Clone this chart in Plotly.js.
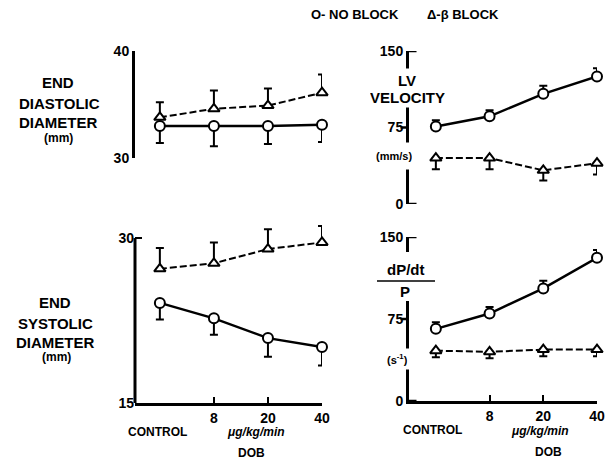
<!DOCTYPE html>
<html>
<head>
<meta charset="utf-8">
<script src="https://cdn.plot.ly/plotly-3.0.1.min.js"></script>
<style>html,body{margin:0;padding:0;background:#fff;}#chart{width:611px;height:462px;}</style>
</head>
<body>
<div id="chart"></div>
<script>
// ---- data ----
const doses = ['CONTROL', '8', '20', '40'];
const doseTickText = ['8', '20', '40'];

const eddNoBlock = [33.0, 33.0, 33.0, 33.1];
const eddNoBlockErr = [1.6, 1.9, 1.7, 1.6];
const eddBeta = [33.8, 34.6, 34.9, 36.1];
const eddBetaErr = [1.4, 1.7, 1.6, 1.7];

const esdNoBlock = [24.1, 22.7, 20.9, 20.1];
const esdNoBlockErr = [1.5, 1.5, 1.7, 1.7];
const esdBeta = [27.2, 27.7, 29.0, 29.6];
const esdBetaErr = [1.9, 1.9, 1.8, 1.5];

const lvvNoBlock = [76, 86, 108, 125];
const lvvNoBlockErr = [6, 6, 8, 8];
const lvvBeta = [45, 45, 33, 40];
const lvvBetaErr = [11, 11, 10, 11];

const dpNoBlock = [66, 80, 103, 131];
const dpNoBlockErr = [6, 6, 7, 7];
const dpBeta = [46, 45, 47, 47];
const dpBetaErr = [6, 6, 6, 6];

// ---- helpers ----
const W = 611, H = 462;
const px = x => x / W;
const py = y => 1 - y / H;
const FONT = 'Liberation Sans, Arial, Helvetica, sans-serif';
const xIdx = doses.map((d, i) => i);
const zeros = doses.map(() => 0);

function noBlock(y, err, dir, xa, ya) {
  return {
    x: xIdx, y: y, xaxis: xa, yaxis: ya, type: 'scatter', mode: 'lines+markers',
    cliponaxis: false, showlegend: false,
    line: {color: '#000', width: 2.5},
    marker: {symbol: 'circle', size: 10, color: '#fff', line: {color: '#000', width: 2}},
    error_y: {type: 'data', symmetric: false,
      array: dir === 'up' ? err : zeros, arrayminus: dir === 'up' ? zeros : err,
      color: '#000', thickness: 2, width: 4}
  };
}
function beta(y, err, dir, xa, ya) {
  return {
    x: xIdx, y: y, xaxis: xa, yaxis: ya, type: 'scatter', mode: 'lines+markers',
    cliponaxis: false, showlegend: false,
    line: {color: '#000', width: 2, dash: '7px,3px'},
    marker: {symbol: 'triangle-up', size: 10, color: '#fff', line: {color: '#000', width: 2}},
    error_y: {type: 'data', symmetric: false,
      array: dir === 'up' ? err : zeros, arrayminus: dir === 'up' ? zeros : err,
      color: '#000', thickness: 2, width: 4}
  };
}

const data = [
  noBlock(eddNoBlock, eddNoBlockErr, 'down', 'x', 'y'),
  beta(eddBeta, eddBetaErr, 'up', 'x', 'y'),
  noBlock(lvvNoBlock, lvvNoBlockErr, 'up', 'x2', 'y2'),
  beta(lvvBeta, lvvBetaErr, 'down', 'x2', 'y2'),
  noBlock(esdNoBlock, esdNoBlockErr, 'down', 'x3', 'y3'),
  beta(esdBeta, esdBetaErr, 'up', 'x3', 'y3'),
  noBlock(dpNoBlock, dpNoBlockErr, 'up', 'x4', 'y4'),
  beta(dpBeta, dpBetaErr, 'down', 'x4', 'y4')
];

const leftDom = [px(135), px(322)];
const rightDom = [px(409), px(597)];
const tickFont = {family: FONT, size: 14, color: '#000', weight: 700};

function hiddenX(dom, anchor, left) {
  return {domain: dom, range: [left, 3], anchor: anchor, showline: false, showgrid: false,
    zeroline: false, ticks: '', showticklabels: false, fixedrange: true};
}
function bottomX(dom, anchor, left) {
  return {domain: dom, range: [left, 3], anchor: anchor, showline: true, linewidth: 3, linecolor: '#000',
    showgrid: false, zeroline: false, ticks: 'inside', ticklen: 6, tickwidth: 2, tickcolor: '#000',
    tickmode: 'array', tickvals: [1, 2, 3], ticktext: doseTickText, tickfont: tickFont, fixedrange: true};
}
function yAx(dom, anchor, range, vals, ticks, showline) {
  return {domain: dom, range: range, anchor: anchor, showline: showline, linewidth: 3, linecolor: '#000',
    showgrid: false, zeroline: false, ticks: ticks, ticklen: 7, tickwidth: 2.5, tickcolor: '#000',
    tickmode: 'array', tickvals: vals, ticktext: vals.map(String), tickfont: tickFont, fixedrange: true};
}

function label(text, x, y, size, extra) {
  return Object.assign({text: text, x: px(x), y: py(y), xref: 'paper', yref: 'paper',
    xanchor: 'center', yanchor: 'middle', showarrow: false,
    font: {family: FONT, size: size, color: '#000', weight: 700}}, extra || {});
}

const annotations = [
  label('O- NO BLOCK', 355, 15, 13), label('\u0394-\u03B2 BLOCK', 463, 15, 13),
  // top-left title
  label('END', 58, 83, 15), label('DIASTOLIC', 59, 103, 15), label('DIAMETER', 58, 123, 15),
  label('(mm)', 58, 138, 12),
  // bottom-left title
  label('END', 55, 302, 15), label('SYSTOLIC', 55, 323, 15), label('DIAMETER', 55, 342, 15),
  label('(mm)', 56, 357, 12),
  // top-right title (covers the axis line like the original)
  label('LV', 407, 80, 15, {bgcolor: '#fff', height: 20, width: 26}),
  label('VELOCITY', 407, 97, 15, {bgcolor: '#fff', height: 18}),
  label('(mm/s)', 394, 156, 11, {bgcolor: '#fff', height: 24}),
  // bottom-right title
  label('dP/dt', 406, 269, 15),
  label('P', 405, 291, 15),
  label('(s<sup>-1</sup>)', 397, 359, 11, {bgcolor: '#fff', height: 18}),
  // x labels
  label('CONTROL', 157, 432, 12), label('<i>\u03BCg/kg/min</i>', 256, 432, 12), label('DOB', 251, 453, 12),
  label('CONTROL', 432, 430, 12), label('<i>\u03BCg/kg/min</i>', 540, 431, 12), label('DOB', 548, 452, 12)
];

const shapes = [
  // gap in the lower-right axis line behind the dP/dt over P label
  {type: 'rect', xref: 'paper', yref: 'paper', x0: px(401), x1: px(418), y0: py(301), y1: py(252),
   fillcolor: '#fff', line: {width: 0}, layer: 'above'},
  {type: 'line', xref: 'paper', yref: 'paper', x0: px(377), x1: px(435), y0: py(281), y1: py(281),
   line: {color: '#000', width: 1.5}, layer: 'above'},
  // y-axis line of the lower-left panel, from 15 to 30 only (error bars rise above it)
  {type: 'line', xref: 'x3 domain', yref: 'y3', x0: 0, x1: 0, y0: 15, y1: 30,
   line: {color: '#000', width: 3}, layer: 'above'}
];
// right-panel tick stubs: 0 and 150 inside, 75 outside
[['x2 domain', 'y2'], ['x4 domain', 'y4']].forEach(([xr, yr]) => {
  [0, 150].forEach(v => shapes.push({type: 'line', xref: xr, yref: yr, x0: 0, x1: 0.04, y0: v, y1: v,
    line: {color: '#000', width: 2.5}, layer: 'above'}));
  shapes.push({type: 'line', xref: xr, yref: yr, x0: -0.045, x1: 0, y0: 75, y1: 75,
    line: {color: '#000', width: 2.5}, layer: 'above'});
});

const layout = {
  width: W, height: H, margin: {l: 0, r: 0, t: 0, b: 0},
  paper_bgcolor: '#fff', plot_bgcolor: 'rgba(0,0,0,0)', showlegend: false,
  font: {family: FONT, color: '#000'},
  xaxis: hiddenX(leftDom, 'y', -0.46),
  yaxis: yAx([py(158), py(51)], 'x', [30, 40], [30, 40], 'inside', true),
  xaxis2: hiddenX(rightDom, 'y2', -0.5),
  yaxis2: yAx([py(204), py(51)], 'x2', [0, 150], [0, 75, 150], '', true),
  xaxis3: bottomX(leftDom, 'y3', -0.46),
  yaxis3: yAx([py(403), py(220)], 'x3', [15, 31.64], [15, 30], 'inside', false),
  xaxis4: bottomX(rightDom, 'y4', -0.5),
  yaxis4: yAx([py(401), py(237)], 'x4', [0, 150], [0, 75, 150], '', true),
  annotations: annotations,
  shapes: shapes
};

Plotly.newPlot('chart', data, layout, {staticPlot: true, displayModeBar: false});
</script>
</body>
</html>
